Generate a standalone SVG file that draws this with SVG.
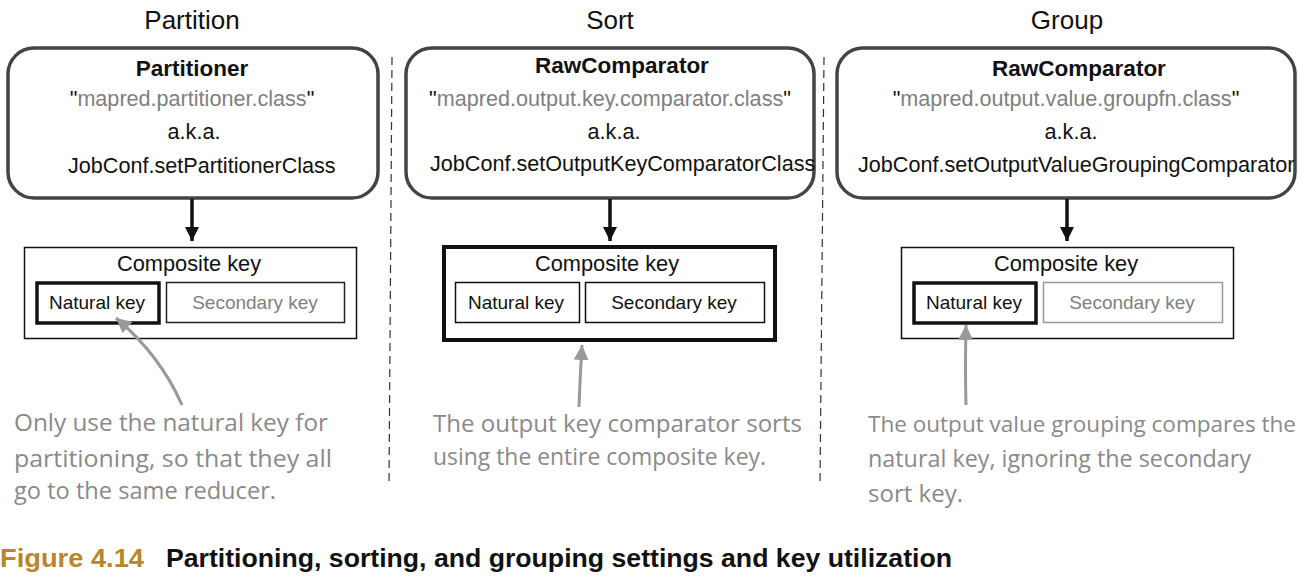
<svg xmlns="http://www.w3.org/2000/svg" width="1306" height="581" viewBox="0 0 1306 581">
<style>
.t{font-family:"Liberation Sans",Arial,sans-serif;fill:#111}
.title{font-size:26px}
.b{font-size:22.5px;font-weight:bold}
.m{font-size:21.6px}
.g{fill:#808080}
.k{font-size:21.8px}
.kk{font-size:19px}
.hand{font-family:"Open Sans","Liberation Sans",sans-serif;font-size:23px;fill:#8a8a8a}
.rbox{fill:#fff;stroke:#444;stroke-width:3.5}
.cap{font-family:"Liberation Sans",Arial,sans-serif;font-size:25px;font-weight:bold}
</style>
<defs>
<marker id="ah" viewBox="0 0 10 10" refX="10" refY="5" markerWidth="4" markerHeight="4" orient="auto"><path d="M0,0 L10,5 L0,10 z" fill="#111"/></marker>
<marker id="gh" viewBox="0 0 10 10" refX="10" refY="5" markerWidth="5" markerHeight="5" orient="auto"><path d="M0,0 L10,5 L0,10 z" fill="#999"/></marker>
</defs>
<rect width="1306" height="581" fill="#fff"/>
<g id="titles" class="t title" text-anchor="middle">
<text x="192" y="29">Partition</text>
<text x="610" y="29">Sort</text>
<text x="1067" y="29">Group</text>
</g>
<g id="dividers" stroke="#333" stroke-width="1.2" stroke-dasharray="8,5">
<line x1="392" y1="57" x2="389" y2="485"/>
<line x1="824" y1="57" x2="820" y2="485"/>
</g>
<g id="node-partitioner">
<rect class="rbox" x="8" y="48" width="370" height="150" rx="26"/>
<text class="t b" x="192" y="76" text-anchor="middle">Partitioner</text>
<text class="t m" x="192" y="106" text-anchor="middle">"<tspan class="g">mapred.partitioner.class</tspan>"</text>
<text class="t m" x="194" y="139" text-anchor="middle">a.k.a.</text>
<text class="t m" x="68" y="173">JobConf.setPartitionerClass</text>
</g>
<g id="node-sort-comparator">
<rect class="rbox" x="406" y="48" width="408" height="150" rx="26"/>
<text class="t b" x="622" y="73" text-anchor="middle">RawComparator</text>
<text class="t m" x="610" y="106" text-anchor="middle">"<tspan class="g">mapred.output.key.comparator.class</tspan>"</text>
<text class="t m" x="614" y="139" text-anchor="middle">a.k.a.</text>
<text class="t m" x="430" y="171">JobConf.setOutputKeyComparatorClass</text>
</g>
<g id="node-group-comparator">
<rect class="rbox" x="837" y="48" width="458" height="150" rx="26"/>
<text class="t b" x="1079" y="76" text-anchor="middle">RawComparator</text>
<text class="t m" x="1066" y="106" text-anchor="middle">"<tspan class="g">mapred.output.value.groupfn.class</tspan>"</text>
<text class="t m" x="1071" y="139" text-anchor="middle">a.k.a.</text>
<text class="t m" x="858" y="172">JobConf.setOutputValueGroupingComparator</text>
</g>
<g id="node-key-partition">
<rect x="24.5" y="247.5" width="332" height="91" fill="#fff" stroke="#111" stroke-width="1.5"/>
<text class="t k" x="189" y="271" text-anchor="middle">Composite key</text>
<rect x="37" y="283" width="122" height="40" fill="#fff" stroke="#111" stroke-width="3.5"/>
<text class="t kk" x="97" y="309" text-anchor="middle">Natural key</text>
<rect x="166.5" y="282.5" width="178" height="40" fill="#fff" stroke="#222" stroke-width="1.5"/>
<text class="t kk g" x="255" y="309" text-anchor="middle">Secondary key</text>
</g>
<g id="node-key-sort">
<rect x="444" y="247" width="331" height="93" fill="#fff" stroke="#111" stroke-width="4"/>
<text class="t k" x="607" y="271" text-anchor="middle">Composite key</text>
<rect x="455.5" y="282.5" width="124" height="40" fill="#fff" stroke="#111" stroke-width="1.5"/>
<text class="t kk" x="516" y="309" text-anchor="middle">Natural key</text>
<rect x="585.5" y="282.5" width="179" height="40" fill="#fff" stroke="#111" stroke-width="1.5"/>
<text class="t kk" x="674" y="309" text-anchor="middle">Secondary key</text>
</g>
<g id="node-key-group">
<rect x="901.5" y="247.5" width="332" height="91" fill="#fff" stroke="#111" stroke-width="1.5"/>
<text class="t k" x="1066" y="271" text-anchor="middle">Composite key</text>
<rect x="914" y="283" width="122" height="40" fill="#fff" stroke="#111" stroke-width="3.5"/>
<text class="t kk" x="974" y="309" text-anchor="middle">Natural key</text>
<rect x="1043.5" y="282.5" width="179" height="40" fill="#fff" stroke="#999" stroke-width="1.5"/>
<text class="t kk g" x="1132" y="309" text-anchor="middle">Secondary key</text>
</g>
<g id="connectors">
<line x1="192" y1="199" x2="192" y2="241" stroke="#111" stroke-width="3.5" marker-end="url(#ah)"/>
<line x1="610" y1="199" x2="610" y2="241" stroke="#111" stroke-width="3.5" marker-end="url(#ah)"/>
<line x1="1067" y1="199" x2="1067" y2="241" stroke="#111" stroke-width="3.5" marker-end="url(#ah)"/>
<path d="M182,405 Q160,355 116,318" fill="none" stroke="#999" stroke-width="3" marker-end="url(#gh)"/>
<path d="M579,407 Q580,380 582,345" fill="none" stroke="#999" stroke-width="3" marker-end="url(#gh)"/>
<path d="M966,405 Q965,370 966,325" fill="none" stroke="#999" stroke-width="3" marker-end="url(#gh)"/>
</g>
<g id="notes" class="hand">
<text x="14" y="431" textLength="314" lengthAdjust="spacingAndGlyphs">Only use the natural key for</text>
<text x="14" y="467" textLength="318" lengthAdjust="spacingAndGlyphs">partitioning, so that they all</text>
<text x="14" y="499" textLength="262" lengthAdjust="spacingAndGlyphs">go to the same reducer.</text>
<text x="433" y="432" textLength="369" lengthAdjust="spacingAndGlyphs">The output key comparator sorts</text>
<text x="433" y="465" textLength="333" lengthAdjust="spacingAndGlyphs">using the entire composite key.</text>
<text x="868" y="432" font-size="21" textLength="428" lengthAdjust="spacingAndGlyphs">The output value grouping compares the</text>
<text x="868" y="467" textLength="383" lengthAdjust="spacingAndGlyphs">natural key, ignoring the secondary</text>
<text x="868" y="502" textLength="95" lengthAdjust="spacingAndGlyphs">sort key.</text>
</g>
<g id="caption" class="cap">
<text x="0" y="567" fill="#b8862b" textLength="144" lengthAdjust="spacingAndGlyphs">Figure 4.14</text>
<text x="166" y="567" fill="#111" textLength="786" lengthAdjust="spacingAndGlyphs">Partitioning, sorting, and grouping settings and key utilization</text>
</g>
</svg>
